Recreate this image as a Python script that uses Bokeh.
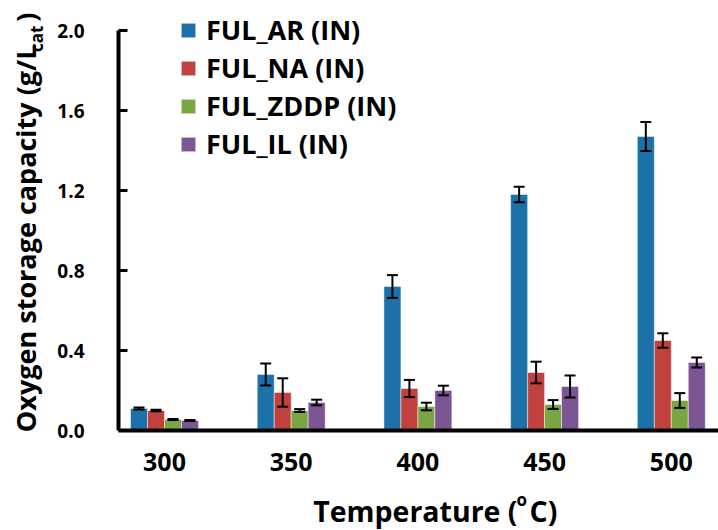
import numpy as np
from bokeh.plotting import figure
from bokeh.models import (ColumnDataSource, Range1d, FixedTicker, Legend, LegendItem,
                          Whisker, TeeHead, Label, PrintfTickFormatter)
from bokeh.embed import file_html
from bokeh.resources import INLINE

# ---- data ----
temps = [300, 350, 400, 450, 500]
series = ["FUL_AR (IN)", "FUL_NA (IN)", "FUL_ZDDP (IN)", "FUL_IL (IN)"]
ar = [0.11, 0.28, 0.72, 1.18, 1.47]
ar_err = [0.005, 0.055, 0.057, 0.039, 0.073]
na = [0.10, 0.19, 0.21, 0.29, 0.45]
na_err = [0.004, 0.071, 0.043, 0.054, 0.036]
zddp = [0.055, 0.10, 0.12, 0.13, 0.15]
zddp_err = [0.003, 0.007, 0.019, 0.022, 0.037]
il = [0.05, 0.14, 0.20, 0.22, 0.34]
il_err = [0.003, 0.014, 0.024, 0.055, 0.025]
y_ticks = [0.0, 0.4, 0.8, 1.2, 1.6, 2.0]

values = [ar, na, zddp, il]
errors = [ar_err, na_err, zddp_err, il_err]
colors = ["#1B71A8", "#C1413E", "#7AA642", "#7B5594"]

FONT = "Open Sans"

# frame covers the whole canvas; axes are pinned with fixed_location
X0, X1 = 235.28, 518.63
Y0, Y1 = -0.5, 2.15
p = figure(width=718, height=530, output_backend="svg", toolbar_location=None,
           x_range=Range1d(X0, X1), y_range=Range1d(Y0, Y1),
           min_border_left=0, min_border_right=0, min_border_top=0,
           min_border_bottom=0)
p.outline_line_color = None
p.xgrid.visible = False
p.ygrid.visible = False
p.background_fill_color = "white"
p.border_fill_color = "white"

x_axis_start = 281.85

bar_w = 6.7
offsets = [-1.5, -0.5, 0.5, 1.5]
items = []
for j in range(4):
    xs = [t + offsets[j] * bar_w for t in temps]
    src = ColumnDataSource(dict(x=xs, top=values[j],
                                upper=[v + e for v, e in zip(values[j], errors[j])],
                                lower=[v - e for v, e in zip(values[j], errors[j])]))
    r = p.vbar(x="x", top="top", bottom=0, width=bar_w, source=src,
               fill_color=colors[j], line_color="white", line_alpha=0.45, line_width=1)
    items.append(LegendItem(label=series[j], renderers=[r]))
    w = Whisker(source=src, base="x", upper="upper", lower="lower", level="overlay",
                line_color="black", line_width=2,
                upper_head=TeeHead(size=11, line_width=2, line_color="black"),
                lower_head=TeeHead(size=11, line_width=2, line_color="black"))
    p.add_layout(w)

# axes
p.xaxis.fixed_location = 0
p.xaxis.bounds = (x_axis_start, X1)
p.xaxis.ticker = FixedTicker(ticks=temps)
p.xaxis.major_tick_in = 0
p.xaxis.major_tick_out = 0
p.xaxis.minor_tick_line_color = None
p.xaxis.axis_line_width = 4
p.xaxis.axis_line_color = "black"
p.xaxis.major_label_text_font = FONT
p.xaxis.major_label_text_font_style = "bold"
p.xaxis.major_label_text_font_size = "25px"
p.xaxis.major_label_text_color = "black"
p.xaxis.major_label_standoff = 22

p.yaxis.fixed_location = x_axis_start
p.yaxis.bounds = (0, 2.0)
p.yaxis.ticker = FixedTicker(ticks=y_ticks)
p.yaxis.formatter = PrintfTickFormatter(format="%.1f")
p.yaxis.major_tick_in = 9
p.yaxis.major_tick_out = 0
p.yaxis.major_tick_line_width = 3
p.yaxis.major_tick_line_color = "black"
p.yaxis.minor_tick_line_color = None
p.yaxis.axis_line_width = 4
p.yaxis.axis_line_color = "black"
p.yaxis.major_label_text_font = FONT
p.yaxis.major_label_text_font_style = "bold"
p.yaxis.major_label_text_font_size = "19px"
p.yaxis.major_label_text_color = "black"
p.yaxis.major_label_standoff = 34

legend = Legend(items=items, location=(179, 368), orientation="vertical",
                label_text_font=FONT, label_text_font_style="bold",
                label_text_font_size="27px", label_text_color="black",
                glyph_width=18, glyph_height=18, label_standoff=9,
                spacing=1, padding=0, margin=0, label_height=20,
                border_line_color=None, background_fill_alpha=0)
p.add_layout(legend)

H = 530
# axis titles (screen units, frame == canvas)
def lab(text, x, y, size, align, angle=0.0):
    p.add_layout(Label(x=x, y=H - y, x_units="screen", y_units="screen", text=text,
                       text_font=FONT, text_font_style="bold", text_font_size=size,
                       text_align=align, text_baseline="alphabetic", angle=angle,
                       text_color="black"))

# x title: "Temperature (" + superscript "o" + "C)"
lab("Temperature (", 517, 510, "28.5px", "right")
lab("o", 516, 499, "17px", "left")
lab("C)", 529, 510, "28.5px", "left")

# y title: "Oxygen storage capacity (g/L" + subscript "cat" + ")"
ang = np.pi / 2
lab("Oxygen storage capacity (g/L", 25, 44, "27px", "right", ang)
lab("cat", 36, 25, "17px", "right", ang)
lab(")", 25, 12, "27px", "right", ang)

open("out.html", "w").write(file_html(p, INLINE))
